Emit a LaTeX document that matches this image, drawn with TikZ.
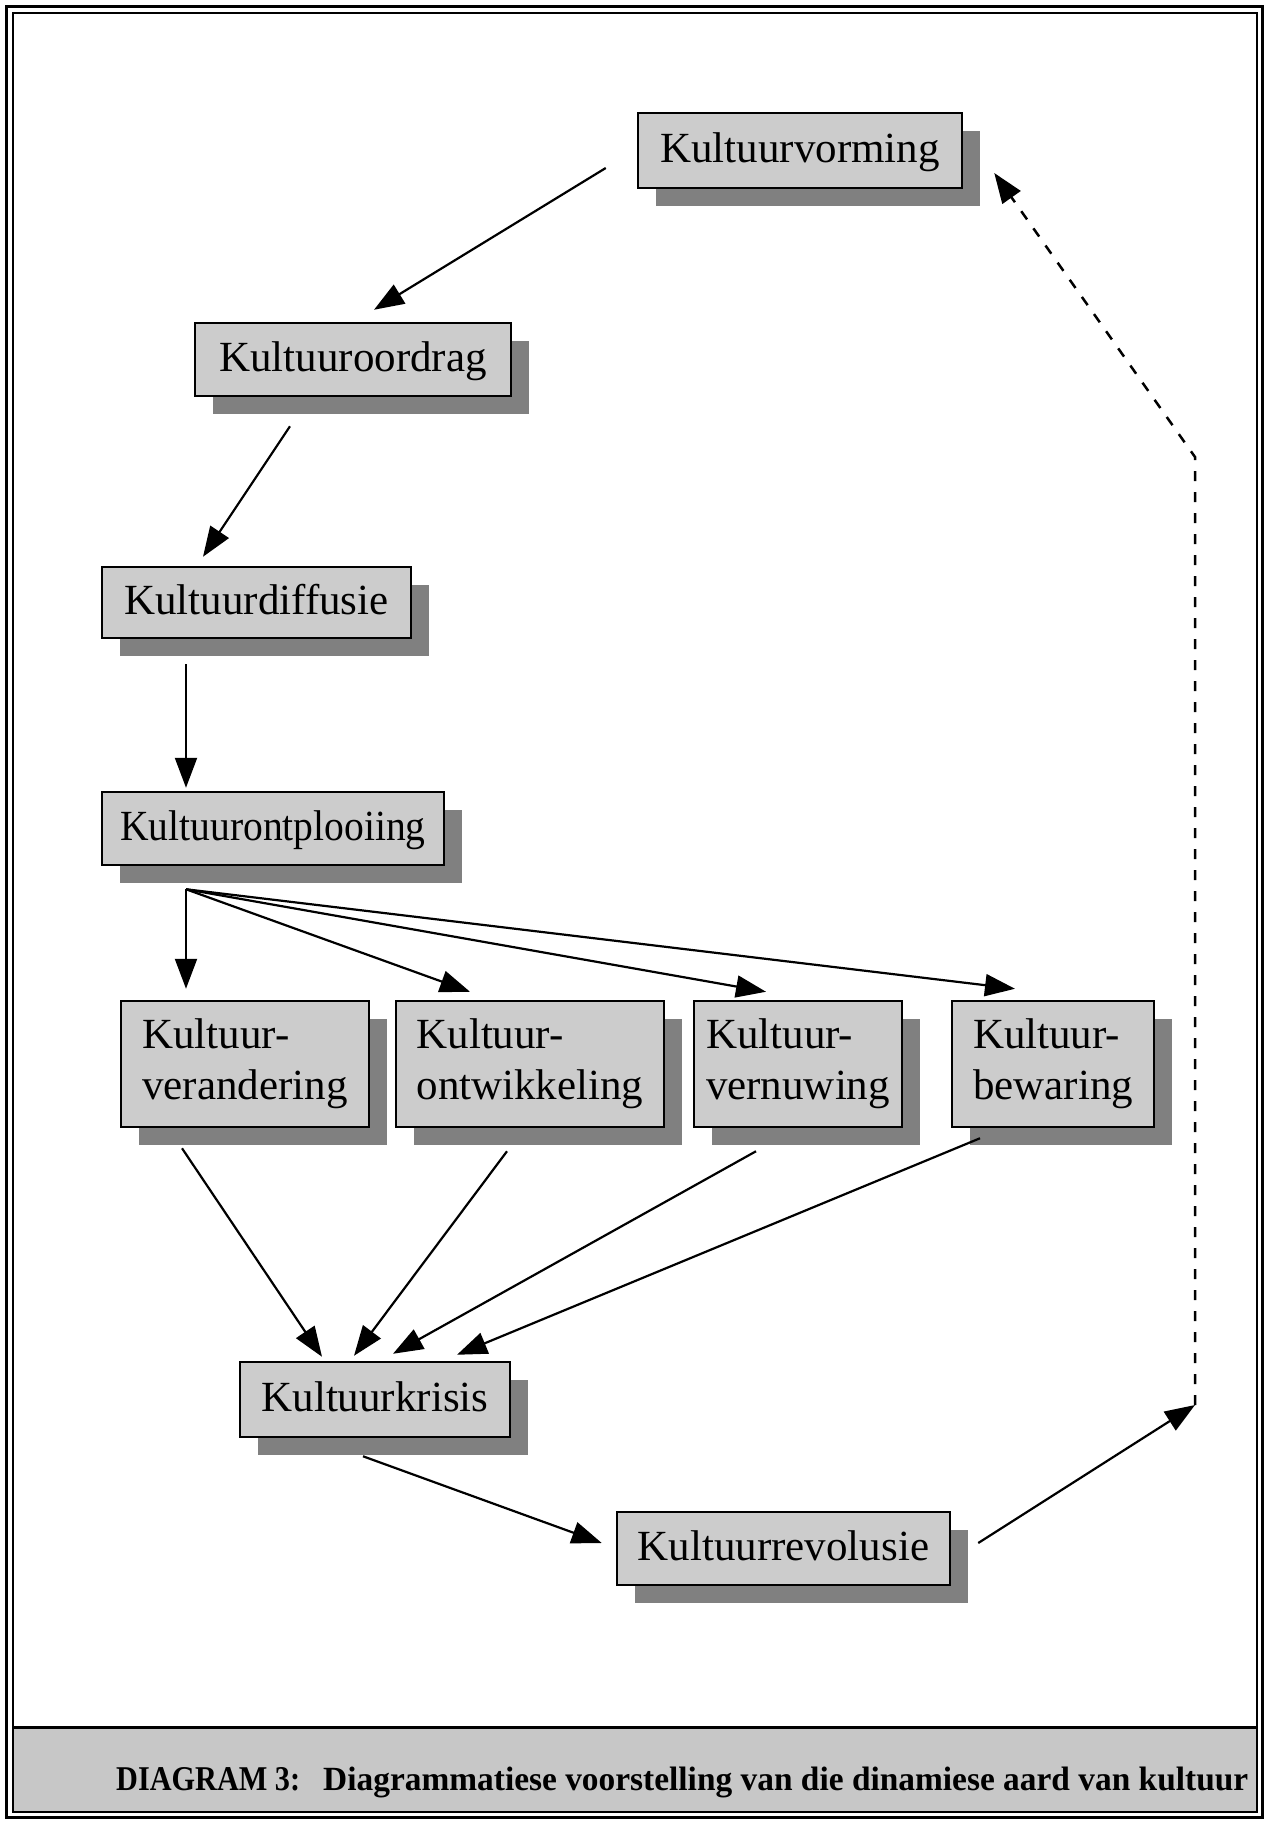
\documentclass[tikz,border=0pt]{standalone}
\usepackage{graphicx}
\usepackage{fontspec}
\setmainfont{Liberation Serif}
\usetikzlibrary{arrows.meta,shadows}
\begin{document}
\begin{tikzpicture}[x=1pt,y=-1pt,
  box/.style={draw=black, line width=2.5pt, fill=black!20, inner sep=0pt,
    drop shadow={shadow xshift=18pt, shadow yshift=-18pt, fill=black!50, opacity=1},
    font=\fontsize{43}{51}\selectfont},
  single/.style={box, text height=29pt, text depth=6pt},
  double/.style={box, align=left, minimum height=126pt},
  arr/.style={line width=2.2pt, -{Triangle[length=30pt,width=22pt]}},
  dasharr/.style={line width=2.5pt, dash pattern=on 10pt off 11pt, -{Triangle[length=30pt,width=22pt]}},
  captxt/.style={anchor=base west, inner sep=0pt}
]
\useasboundingbox (0,0) rectangle (1268,1821);
% frame and caption band
\fill[black!22] (13,1727) rectangle (1257,1812);
\draw[line width=3pt] (6.5,6.5) rectangle (1262.5,1817.5);
\draw[line width=1.8pt] (13,13) rectangle (1257,1812);
\draw[line width=3pt] (13,1727) -- (1257,1727);

% nodes
\node[single, minimum width=324pt, minimum height=75pt] (vorm) at (800,150.5) {Kultuurvorming};
\node[single, minimum width=316pt, minimum height=73pt] (oord) at (353,359.5) {Kultuuroordrag};
\node[single, minimum width=309pt, minimum height=71pt] (diff) at (256.5,602.5) {Kultuurdiffusie};
\node[single, minimum width=342pt, minimum height=73pt] (ontpl) at (273,828.5) {\scalebox{0.92}[1]{Kultuurontplooiing}};
\node[double, minimum width=248pt] (veran) at (245,1064) {Kultuur-\\verandering};
\node[double, minimum width=268pt] (ontw) at (530,1064) {Kultuur-\\ontwikkeling};
\node[double, minimum width=208pt] (vern) at (798,1064) {Kultuur-\\vernuwing};
\node[double, minimum width=202pt] (bew) at (1053,1064) {Kultuur-\\bewaring};
\node[single, minimum width=270pt, minimum height=75pt] (kris) at (375,1399.5) {Kultuurkrisis};
\node[single, minimum width=333pt, minimum height=73pt] (rev) at (783.5,1548.5) {Kultuurrevolusie};

\coordinate (fan) at ([xshift=-87pt,yshift=-23pt]ontpl.south);
\coordinate (dbot) at (1195,1405);
\coordinate (dtop) at (1195,457);

% connectors
\draw[arr] ([xshift=-31pt,yshift=-17.5pt]vorm.west) -- ([xshift=21pt,yshift=12pt]oord.north);
\draw[arr] ([xshift=-63pt,yshift=-29pt]oord.south) -- ([xshift=-53.5pt,yshift=9pt]diff.north);
\draw[arr] ([xshift=-70.5pt,yshift=-25pt]diff.south) -- ([xshift=-87pt,yshift=3pt]ontpl.north);
\draw[arr] (fan) -- ([xshift=-59pt,yshift=11pt]veran.north);
\draw[arr] (fan) -- ([xshift=-60pt,yshift=8pt]ontw.north);
\draw[arr] (fan) -- ([xshift=-32pt,yshift=8pt]vern.north);
\draw[arr] (fan) -- ([xshift=-38pt,yshift=11pt]bew.north);
\draw[arr] ([xshift=-63pt,yshift=-20pt]veran.south) -- ([xshift=-53pt,yshift=4pt]kris.north);
\draw[arr] ([xshift=-23pt,yshift=-23pt]ontw.south) -- ([xshift=-21pt,yshift=5pt]kris.north);
\draw[arr] ([xshift=-42pt,yshift=-23pt]vern.south) -- ([xshift=18pt,yshift=7pt]kris.north);
\draw[arr] ([xshift=-73pt,yshift=-10pt]bew.south) -- ([xshift=82pt,yshift=6pt]kris.north);
\draw[arr] ([xshift=-12pt,yshift=-18pt]kris.south) -- ([xshift=-14pt,yshift=5.5pt]rev.west);
\draw[arr] ([xshift=27pt,yshift=5.5pt]rev.east) -- (dbot);
\draw[dasharr] (dbot) -- (dtop) -- ([xshift=31pt,yshift=-22.5pt]vorm.east);

% caption
\node[captxt] (cap1) at (116,1790) {\resizebox{184pt}{23pt}{\fontsize{30}{36}\selectfont\bfseries DIAGRAM 3:}};
\node[captxt] (cap2) at (323,1790) {\resizebox{925pt}{23.5pt}{\fontsize{30}{36}\selectfont\bfseries Diagrammatiese voorstelling van die dinamiese aard van kultuur}};
\end{tikzpicture}
\end{document}
